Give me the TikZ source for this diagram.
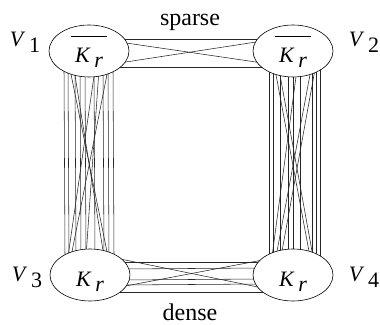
\documentclass[tikz,border=0pt]{standalone}
\usepackage{fontspec}
\setmainfont{Liberation Serif}
\usepackage{tikz}
\usetikzlibrary{shapes,backgrounds}

\newsavebox{\krbox}
\newcommand{\Kr}{\rule{0pt}{1.25em}\textit{K}\,\raisebox{-0.5ex}{\textit{r}}}
\newcommand{\Kbar}{\sbox{\krbox}{\,\Kr\,}\rlap{\raisebox{1.18em}{\rule{\wd\krbox}{0.6pt}}}\usebox{\krbox}}
\newcommand{\Vlab}[1]{\textit{V}\,\raisebox{-0.6ex}{#1}}

\begin{document}
\begin{tikzpicture}[x=1pt, y=1pt,
    part/.style={ellipse, draw, fill=white, line width=0.6pt, minimum width=80pt, minimum height=52pt, inner sep=0pt, font=\fontsize{22}{26}\selectfont},
    setlab/.style={font=\fontsize{22}{26}\selectfont},
    word/.style={font=\fontsize{24}{28}\selectfont, anchor=base, inner sep=0pt},
    link/.style={line width=0.55pt, black!85}
]
\useasboundingbox (0,0) rectangle (380,324);

\node[part] (V1) at (89, 273) {\Kbar};
\node[part] (V2) at (293, 273) {\Kbar};
\node[part] (V3) at (90, 49) {\Kr};
\node[part] (V4) at (293, 49) {\Kr};

\node[setlab] (L1) at (25, 282) {\Vlab{1}};
\node[setlab] (L2) at (364, 282) {\Vlab{2}};
\node[setlab] (L3) at (27, 47) {\Vlab{3}};
\node[setlab] (L4) at (364, 47) {\Vlab{4}};

\node[word] (sp) at (190, 298) {sparse};
\node[word] (de) at (190, 4) {dense};

\begin{scope}[on background layer]
% sparse side V1 -> V2
\foreach \a/\b in {12/12, -16/-16, 9/-12, -12/10}
    \draw[link] ([shift={(-10,\a)}]V1.east) -- ([shift={(10,\b)}]V2.west);
% dense side V3 -> V4
\foreach \a/\b in {13/13, 6/7, -5/-4, -10/-9, -17/-17, 16/-13, -12/15}
    \draw[link] ([shift={(-10,\a)}]V3.east) -- ([shift={(10,\b)}]V4.west);
% V1 -> V3
\foreach \a/\b in {-25/-25, -21/-21, -14/-14, -9/-9, -4/-4, 5/5, 14/14, 19/19, 24/24,
                   -19/18, -15/14, 6/-22, 19/-19, 10/-4}
    \draw[link] ([shift={(\a,8)}]V1.south) -- ([shift={(\b,-8)}]V3.north);
% V2 -> V4
\foreach \a/\b in {-24/-24, -20/-20, -13/-13, -5/-5, 0/0, 7/7, 19/19, 23/23, 27/27,
                   -18/17, -14/20, 4/-21, 18/-17, 22/-12}
    \draw[link] ([shift={(\a,8)}]V2.south) -- ([shift={(\b,-8)}]V4.north);
\end{scope}
\end{tikzpicture}
\end{document}
